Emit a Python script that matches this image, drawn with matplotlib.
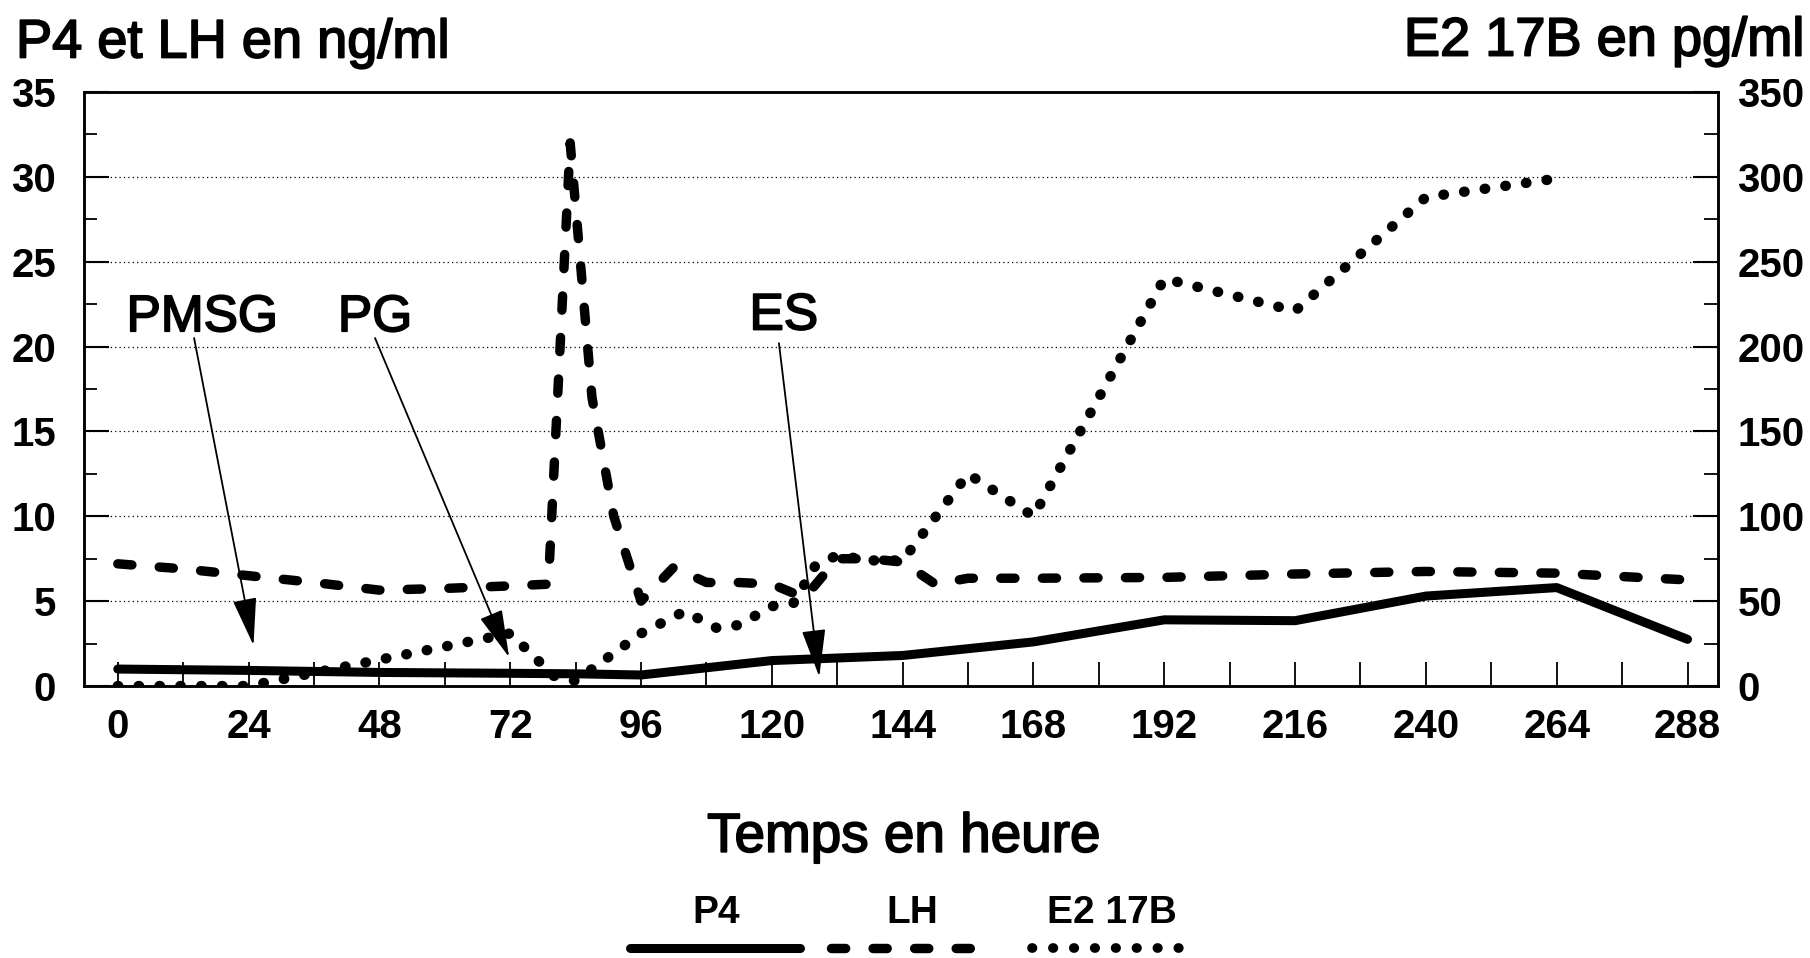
import matplotlib
matplotlib.use('Agg')
import matplotlib.pyplot as plt
import matplotlib.patheffects as pe
from matplotlib.lines import Line2D
from matplotlib.ticker import MultipleLocator

plt.rcParams['font.family'] = ['Liberation Sans', 'DejaVu Sans']

# ---- data ----
hours_p4 = [0, 24, 48, 72, 84, 96, 120, 144, 168, 192, 216, 240, 264, 288]
p4 = [1.0, 0.92, 0.8, 0.75, 0.72, 0.65, 1.5, 1.8, 2.6, 3.9, 3.85, 5.3, 5.8, 2.75]

hours_lh = [0, 12, 24, 36, 48, 60, 72, 79, 83, 87, 91, 96, 102, 108, 114, 120,
            126, 132, 138, 144, 150, 156, 168, 192, 216, 240, 264, 288]
lh = [7.2, 6.9, 6.5, 6.1, 5.65, 5.75, 5.9, 6.0, 32.0, 17.0, 10.0, 5.0, 7.0, 6.1, 6.1, 6.0,
      5.2, 7.5, 7.5, 7.3, 6.0, 6.35, 6.35, 6.4, 6.6, 6.75, 6.65, 6.25]

hours_e2 = [0, 24, 48, 72, 80, 84, 96, 104, 110, 114, 120, 124, 128, 132, 138, 144,
            156, 168, 192, 216, 240, 264]
e2 = [0, 0, 15.5, 31, 6, 3, 31, 44, 34, 36, 47, 49, 71, 77, 74, 74,
      125, 100, 240, 221, 288, 299]

x_ticks = list(range(0, 289, 24))
events = ['PMSG', 'PG', 'ES']
event_text_x = [15.5, 47.2, 122.2]
event_text_y = [21.7, 21.7, 21.8]
event_tail_x = [14.0, 47.2, 121.3]
event_tail_y = [20.5, 20.5, 20.2]
event_tip_x = [24.9, 71.8, 128.7]
event_tip_y = [2.4, 1.7, 0.55]

heavy = [pe.withStroke(linewidth=1.3, foreground='black')]

# ---- figure ----
fig = plt.figure(figsize=(18.10, 9.58), dpi=100)
ax = fig.add_axes([0.0464, 0.2839, 0.9028, 0.6201])
ax2 = ax.twinx()

ax.set_xlim(-6.2, 293.6)
ax.set_ylim(0, 35)
ax2.set_ylim(0, 350)

ax.set_xticks(x_ticks)
ax.xaxis.set_minor_locator(MultipleLocator(12))
ax.yaxis.set_major_locator(MultipleLocator(5))
ax.yaxis.set_minor_locator(MultipleLocator(2.5))
ax2.yaxis.set_major_locator(MultipleLocator(50))
ax2.yaxis.set_minor_locator(MultipleLocator(25))

ax.tick_params(axis='x', which='both', direction='in', length=17, width=1.3,
               pad=16, labelsize=29)
ax.tick_params(axis='y', which='major', direction='in', length=18, width=1.5,
               pad=20, labelsize=29)
ax.tick_params(axis='y', which='minor', direction='in', length=9, width=1.3)
ax2.tick_params(axis='y', which='major', direction='in', length=18, width=1.5,
                pad=14, labelsize=29)
ax2.tick_params(axis='y', which='minor', direction='in', length=10, width=1.3)

for lbl in ax.get_xticklabels() + ax.get_yticklabels() + ax2.get_yticklabels():
    lbl.set_fontweight('bold')

for a in (ax, ax2):
    for s in a.spines.values():
        s.set_linewidth(1.8)

ax.grid(axis='y', which='major', linestyle=(0, (1, 2.5)), linewidth=0.9, color='black')

# ---- series ----
ax.plot(hours_p4, p4, color='black', lw=6.5, solid_capstyle='round',
        solid_joinstyle='round', zorder=4)
ax.plot(hours_lh, lh, color='black', lw=6.8, dashes=(1.5, 2.9),
        dash_capstyle='round', dash_joinstyle='round', zorder=3)
ax2.plot(hours_e2, e2, color='black', lw=7.5, dashes=(0.05, 1.95),
         dash_capstyle='round', zorder=3)

# ---- event annotations ----
for name, tx, ty, ax0, ay0, bx, by in zip(events, event_text_x, event_text_y,
                                          event_tail_x, event_tail_y,
                                          event_tip_x, event_tip_y):
    ax2.text(tx, ty * 10, name, fontsize=37, ha='center', va='center', zorder=6,
             path_effects=heavy)
    ax2.annotate('', xy=(bx, by * 10), xytext=(ax0, ay0 * 10),
                 arrowprops=dict(arrowstyle='-|>,head_length=3.0,head_width=0.75',
                                 mutation_scale=10, lw=1.3, color='black',
                                 shrinkA=0, shrinkB=0), zorder=6)

# ---- titles ----
fig.text(16 / 1810, 0.940, 'P4 et LH en ng/ml', fontsize=39, ha='left', va='baseline',
         path_effects=heavy)
fig.text(0.9967, 0.942, 'E2 17B en pg/ml', fontsize=39, ha='right', va='baseline',
         path_effects=heavy)
fig.text(0.4994, 0.1255, 'Temps en heure', fontsize=39.5, ha='center', va='center',
         path_effects=heavy)

# ---- legend (label above sample line) ----
leg_labels = ['P4', 'LH', 'E2 17B']
leg_text_x = [0.3956, 0.504, 0.6146]
leg_line_x = [(0.348, 0.442), (0.459, 0.542), (0.570, 0.654)]
leg_styles = [dict(lw=6.5, solid_capstyle='round'),
              dict(lw=6.8, dashes=(1.5, 2.9), dash_capstyle='round'),
              dict(lw=7.0, dashes=(0.05, 2.1), dash_capstyle='round')]
for lab, tx, (x0, x1), st in zip(leg_labels, leg_text_x, leg_line_x, leg_styles):
    fig.text(tx, 0.047, lab, fontsize=28, fontweight='bold', ha='center', va='center')
    fig.add_artist(Line2D([x0, x1], [0.0108, 0.0108], transform=fig.transFigure,
                          color='black', **st))

fig.savefig('out.png', dpi=100)
